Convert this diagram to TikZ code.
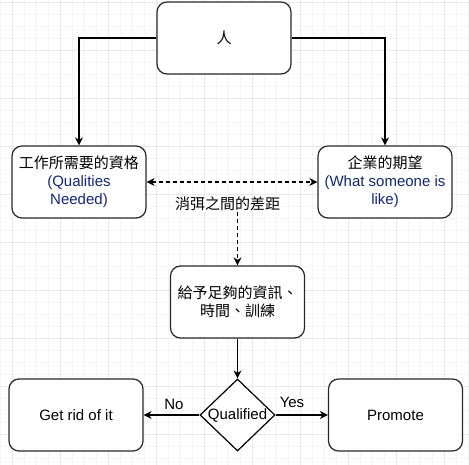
\documentclass[tikz,border=0pt]{standalone}
\usepackage{fontspec}
\setmainfont{Liberation Sans}
\newfontfamily\cjk{Noto Sans CJK TC}
\usepackage{xcolor}
\usepackage{tikz}
\usetikzlibrary{arrows.meta}
\usetikzlibrary{shapes.geometric}
\definecolor{qblue}{RGB}{18,40,115}
\definecolor{boxline}{RGB}{40,40,40}
\definecolor{gridminor}{RGB}{245,245,245}
\definecolor{gridmajor}{RGB}{232,232,232}

\tikzset{
    box/.style={draw=boxline, fill=white, rounded corners=10pt,
        line width=1.2pt, minimum width=134pt, minimum height=72pt,
        align=center, inner sep=2pt},
    txt/.style={font=\fontsize{15}{18}\selectfont},
    link/.style={line width=1.2pt,
        -{Stealth[length=8pt, width=8pt, inset=2.5pt]}},
    gapline/.style={dash pattern=on 4pt off 3pt},
}

\begin{document}
\begin{tikzpicture}[x=1pt, y=-1pt, txt]

    \useasboundingbox (0,0) rectangle (469,465);

    % background grid
    \foreach \gx in {0,12,...,468}
        \draw[gridminor, line width=0.8pt] (\gx,0) -- (\gx,465);
    \foreach \gy in {2,14,...,464}
        \draw[gridminor, line width=0.8pt] (0,\gy) -- (469,\gy);
    \foreach \gx in {12,60,...,468}
        \draw[gridmajor, line width=0.8pt] (\gx,0) -- (\gx,465);
    \foreach \gy in {2,50,...,464}
        \draw[gridmajor, line width=0.8pt] (0,\gy) -- (469,\gy);

    % boxes
    \node[box] (person) at (224, 38) {\cjk 人};
    \node[box] (need) at (79, 182)
    {{\cjk 工作所需要的資格}\\{\color{qblue}(Qualities}\\{\color{qblue}Needed)}};
    \node[box] (expect) at (385, 182)
    {{\cjk 企業的期望}\\{\color{qblue}(What someone is}\\{\color{qblue}like)}};
    \node[box] (train) at (237.5, 302)
    {{\cjk 給予足夠的資訊、}\\{\cjk 時間、訓練}};
    \node[draw=black, fill=white, diamond, line width=1.2pt, inner sep=0pt,
        minimum width=75pt, minimum height=72pt,
        label=center:Qualified] (qual) at (237.5, 415) {};
    \node[box] (drop) at (76, 415) {Get rid of it};
    \node[box] (promote) at (395.5, 415) {Promote};

    % labels
    \node[fill=white, inner sep=1pt] (gap) at (227.5, 204) {\cjk 消弭之間的差距};
    \node (no) at (174, 404) {No};
    \node (yes) at (292, 402) {Yes};

    % connectors
    \begin{scope}[link]
        \draw (person.west) -| (need.north);
        \draw (person.east) -| (expect.north);
        \draw (train.south) -- (qual.north);
        \draw (qual.west) -- (drop.east);
        \draw (qual.east) -- (promote.west);
    \end{scope}

    \begin{scope}[link, gapline]
        \draw[{Stealth[length=8pt, width=8pt, inset=2.5pt]}-{Stealth[length=8pt, width=8pt, inset=2.5pt]}]
            (need.east) -- (expect.west);
        \draw (gap.south -| train.north) -- (train.north);
    \end{scope}

\end{tikzpicture}
\end{document}
